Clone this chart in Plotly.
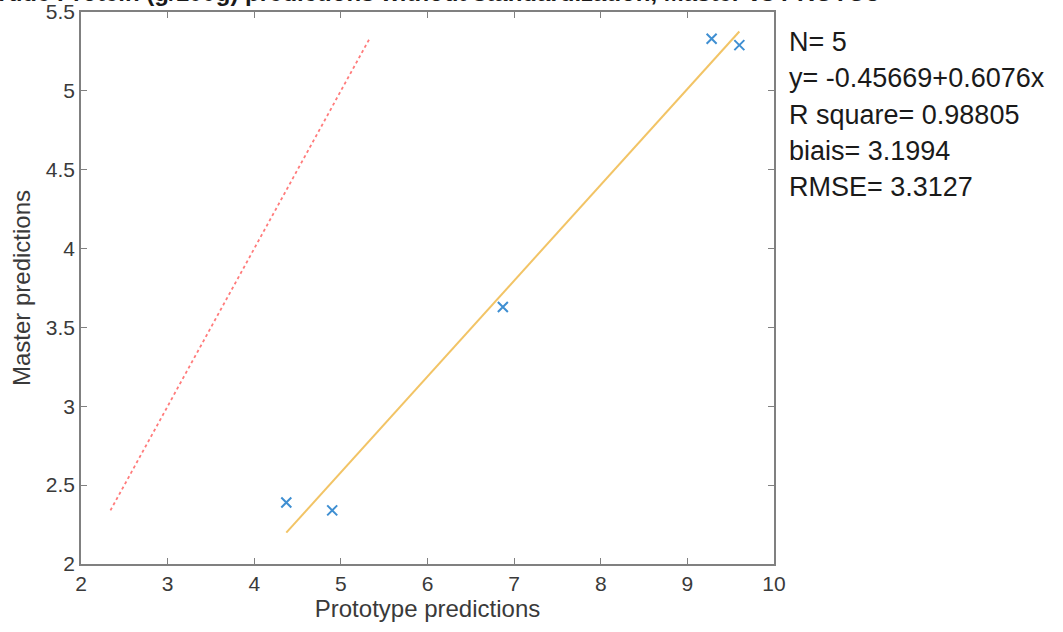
import plotly.graph_objects as go

# Data
prototype = [4.37, 4.90, 6.87, 9.28, 9.60]
master = [2.39, 2.34, 3.63, 5.33, 5.29]
intercept = -0.45669
slope = 0.6076
stats_lines = ["N= 5", "y= -0.45669+0.6076x", "R square= 0.98805", "biais= 3.1994", "RMSE= 3.3127"]
title_text = "Crude Protein (g/100g) predictions without standardization, Master vs PROTO5"
x_ticks = [2, 3, 4, 5, 6, 7, 8, 9, 10]
y_ticks = [2, 2.5, 3, 3.5, 4, 4.5, 5, 5.5]

FONT = "Liberation Sans, Arial, sans-serif"
W, H = 1063, 632
# plot area in page pixels: x 81..774, y 12..564
L, T = 81, 12
R = W - 774
B = H - 564
plot_w = W - L - R
plot_h = H - T - B

def px_to_paper_x(px):
    return (px - L) / plot_w

def py_to_paper_y(py):
    return (H - B - py) / plot_h

fig = go.Figure()

# identity line
lo, hi = min(master), max(master)
fig.add_trace(go.Scatter(x=[lo, hi], y=[lo, hi], mode="lines",
                         line=dict(color="#ff7b7b", width=1.8, dash="dot"),
                         showlegend=False, hoverinfo="skip"))
# fitted line
xf = [min(prototype), max(prototype)]
yf = [intercept + slope * v for v in xf]
fig.add_trace(go.Scatter(x=xf, y=yf, mode="lines",
                         line=dict(color="#f2c466", width=2),
                         showlegend=False))
# points
fig.add_trace(go.Scatter(x=prototype, y=master, mode="markers",
                         marker=dict(symbol="x-thin", size=10,
                                     line=dict(color="#3f8fd2", width=2)),
                         showlegend=False))

axis_common = dict(showgrid=False, zeroline=False, showline=True, linecolor="#808080",
                   linewidth=1.5, mirror="ticks", ticks="inside", ticklen=6,
                   tickwidth=1.2, tickcolor="#808080", automargin=False,
                   tickfont=dict(family=FONT, size=21, color="#3a3a3a"))

fig.update_xaxes(range=[2, 10], tickvals=x_ticks, ticktext=[str(v) for v in x_ticks],
                 title=dict(text="Prototype predictions", standoff=6,
                            font=dict(family=FONT, size=24, color="#3a3a3a")),
                 **axis_common)
fig.update_yaxes(range=[2, 5.5], tickvals=y_ticks, ticktext=[f"{v:g}" for v in y_ticks],
                 title=dict(text="Master predictions", standoff=8,
                            font=dict(family=FONT, size=24, color="#3a3a3a")),
                 **axis_common)

for i, s in enumerate(stats_lines):
    py = 42 + 36.3 * i
    fig.add_annotation(text=s, xref="paper", yref="paper",
                       x=px_to_paper_x(787), y=py_to_paper_y(py),
                       xanchor="left", yanchor="middle", showarrow=False,
                       font=dict(family=FONT, size=27, color="#1a1a1a"))

fig.add_annotation(text="<b>" + title_text + "</b>", xref="paper", yref="paper",
                   x=px_to_paper_x(430), y=py_to_paper_y(-7), xanchor="center", yanchor="middle",
                   showarrow=False, font=dict(family=FONT, size=24, color="#1a1a1a"))

fig.update_layout(width=W, height=H, margin=dict(l=L, r=R, t=T, b=B, autoexpand=False),
                  plot_bgcolor="white", paper_bgcolor="white")

fig.write_html("out.html", config={"displayModeBar": False},
               post_script="document.body.style.margin='0px';document.body.style.overflow='hidden';")
